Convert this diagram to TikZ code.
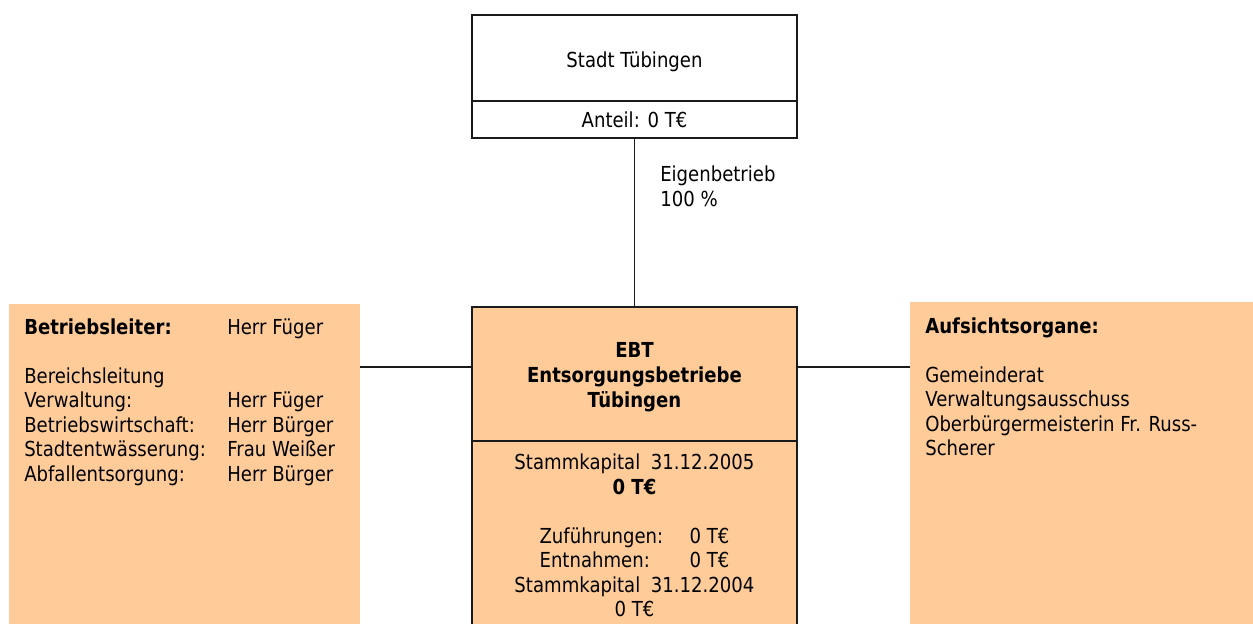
\documentclass[tikz,border=0pt]{standalone}
\usepackage{fontspec}
\setmainfont{DejaVu Sans}[FakeStretch=0.875]
\usetikzlibrary{positioning}
\definecolor{speach}{HTML}{FFCC99}
\definecolor{sline}{HTML}{1A1A1A}
\tikzset{
  x=0.75pt, y=-0.75pt,
  font=\fontsize{15.5}{18.4}\selectfont,
  box/.style={
    draw=sline, fill=#1, line width=1pt,
    inner sep=0pt, outer sep=0pt, minimum width=243.75pt, align=center
  },
  box/.default=white,
  panel/.style={
    fill=speach, draw=none, inner sep=0pt, outer sep=0pt,
    minimum width=263.25pt, minimum height=297pt, anchor=north west
  },
  txt/.style={inner sep=0pt, anchor=base west},
  link/.style={draw=sline, line width=1.1pt}
}
\begin{document}
\begin{tikzpicture}
  \useasboundingbox (0,0) rectangle (1253,624);
  \clip (0,0) rectangle (1253,624);
  \fill[white] (0,0) rectangle (1253,624);

  \node[box, minimum height=64.5pt, text height=14pt, text depth=0pt] (stadt) at (634.5,58) {Stadt Tübingen};
  \node[box, minimum height=27.75pt, below=0pt of stadt] (anteil) {Anteil: 0 T€};

  \node[box=speach, minimum height=100.5pt] (ebt) at (634.5,374) {};
  \node[txt, anchor=base, font=\fontsize{15.5}{18.8}\selectfont\bfseries] (ebttext) at (634.5,357)
    {\begin{tabular}[t]{@{}c@{}}EBT\\Entsorgungsbetriebe\\Tübingen\end{tabular}};
  \node[box=speach, minimum height=195pt, below=0pt of ebt] (kapital) {};
  \node[txt, anchor=base] (kapitaltext) at (634.5,469.5)
    {\begin{tabular}[t]{@{}c@{}}
      Stammkapital\hspace{8pt}31.12.2005\\
      \textbf{0 T€}\\
      \\
      \makebox[112.5pt][l]{Zuführungen:}0 T€\\
      \makebox[112.5pt][l]{Entnahmen:}0 T€\\
      Stammkapital\hspace{8pt}31.12.2004\\
      0 T€
    \end{tabular}};

  \draw[link] (anteil) -- (ebt);
  \node[txt] (eigen) at (660,182)
    {\begin{tabular}[t]{@{}l@{}}Eigenbetrieb\\100 \%\end{tabular}};

  \node[panel] (leiter) at (9,304) {};
  \node[txt] (leitertext) at (24,334)
    {\begin{tabular}[t]{@{}p{152.25pt}@{}l@{}}
      \textbf{Betriebsleiter:} & Herr Füger\\
      & \\
      Bereichsleitung & \\
      Verwaltung: & Herr Füger\\
      Betriebswirtschaft: & Herr Bürger\\
      Stadtentwässerung: & Frau Weißer\\
      Abfallentsorgung: & Herr Bürger
    \end{tabular}};

  \node[panel, minimum width=262.5pt] (aufsicht) at (910,302) {};
  \node[txt] (aufsichttext) at (925,333)
    {\begin{tabular}[t]{@{}l@{}}
      \textbf{Aufsichtsorgane:}\\
      \\
      Gemeinderat\\
      Verwaltungsausschuss\\
      Oberbürgermeisterin Fr. Russ-\\
      Scherer
    \end{tabular}};

  \coordinate (mid) at (634.5,367);
  \draw[link] (leiter.east |- mid) -- (ebt.west |- mid);
  \draw[link] (ebt.east |- mid) -- (aufsicht.west |- mid);
\end{tikzpicture}
\end{document}
